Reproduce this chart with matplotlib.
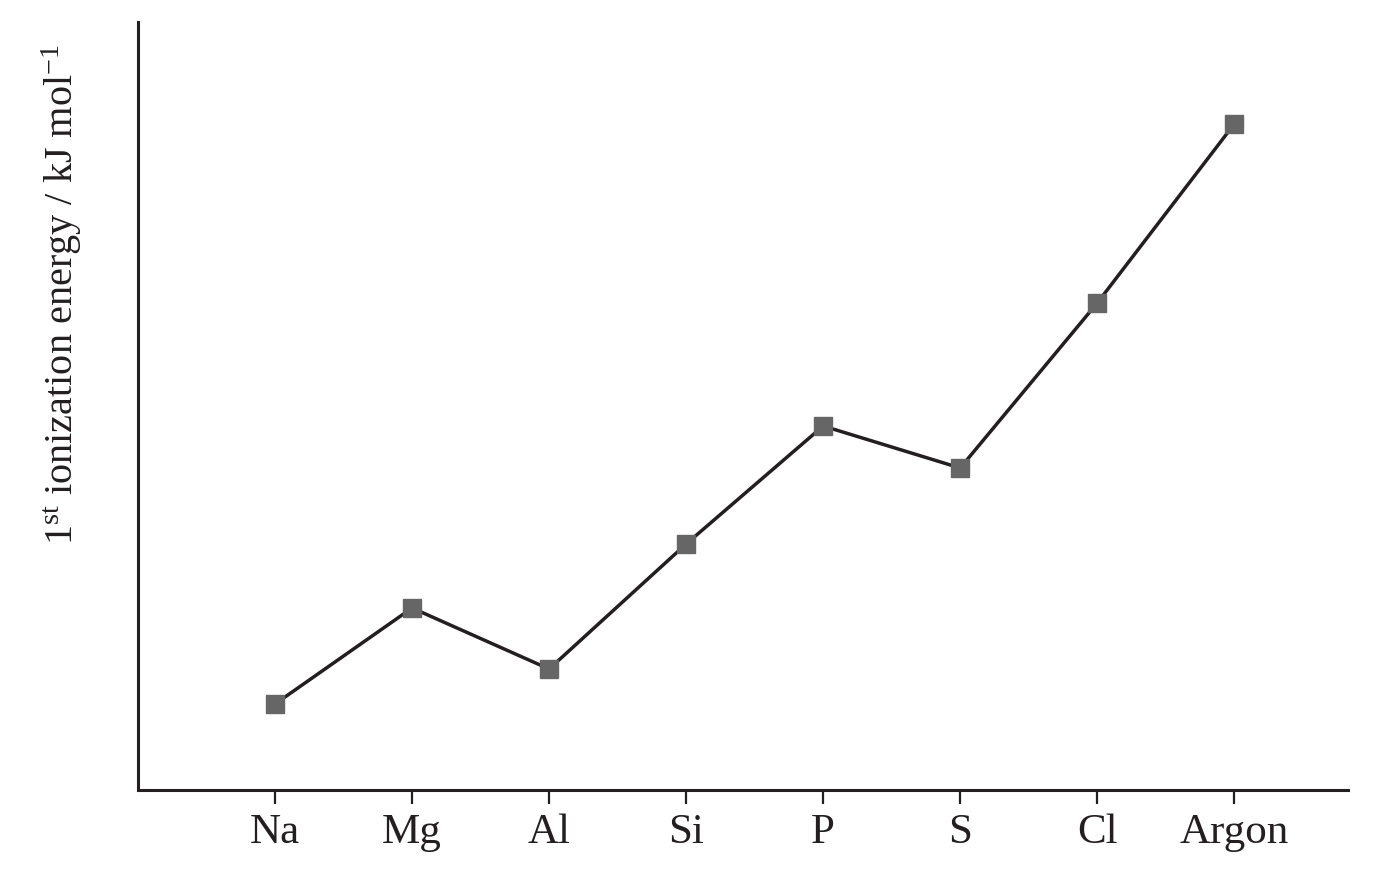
import matplotlib
matplotlib.use("Agg")
import matplotlib.pyplot as plt

# period 3 elements, values in arbitrary units as drawn (schematic chart)
elements = ["Na", "Mg", "Al", "Si", "P", "S", "Cl", "Argon"]
energy = [86, 182, 121, 246, 364, 322, 487, 666]

plt.rcParams["font.family"] = ["Liberation Serif", "DejaVu Serif"]
plt.rcParams["mathtext.fontset"] = "custom"
plt.rcParams["mathtext.rm"] = "Liberation Serif"
plt.rcParams["mathtext.it"] = "Liberation Serif:italic"

fig = plt.figure(figsize=(13.88, 8.69), dpi=100)
ax = fig.add_axes([138 / 1388, 1 - 790 / 869, 1210 / 1388, 768 / 869])

x = list(range(len(elements)))
ax.plot(x, energy, color="#231f20", linewidth=2.5, zorder=2)
ax.plot(x, energy, linestyle="none", marker="s", markersize=13,
        markerfacecolor="#666666", markeredgecolor="#666666", zorder=3)

ax.set_xlim(-1.0, 7.83)
ax.set_ylim(0, 768)

ax.spines["top"].set_visible(False)
ax.spines["right"].set_visible(False)
for s in ("left", "bottom"):
    ax.spines[s].set_linewidth(2.2)
    ax.spines[s].set_color("#231f20")

ax.set_xticks(x)
ax.set_xticklabels(elements, fontsize=31, color="#231f20")
ax.tick_params(axis="x", length=10, width=1.6, pad=7, color="#231f20")
ax.set_yticks([])

ax.set_ylabel(r"1$^{\rm st}$ ionization energy / kJ mol$^{-1}$",
              fontsize=29, color="#231f20")
ax.yaxis.set_label_coords(-0.045, 0.645)

fig.savefig("out.png", dpi=100)
